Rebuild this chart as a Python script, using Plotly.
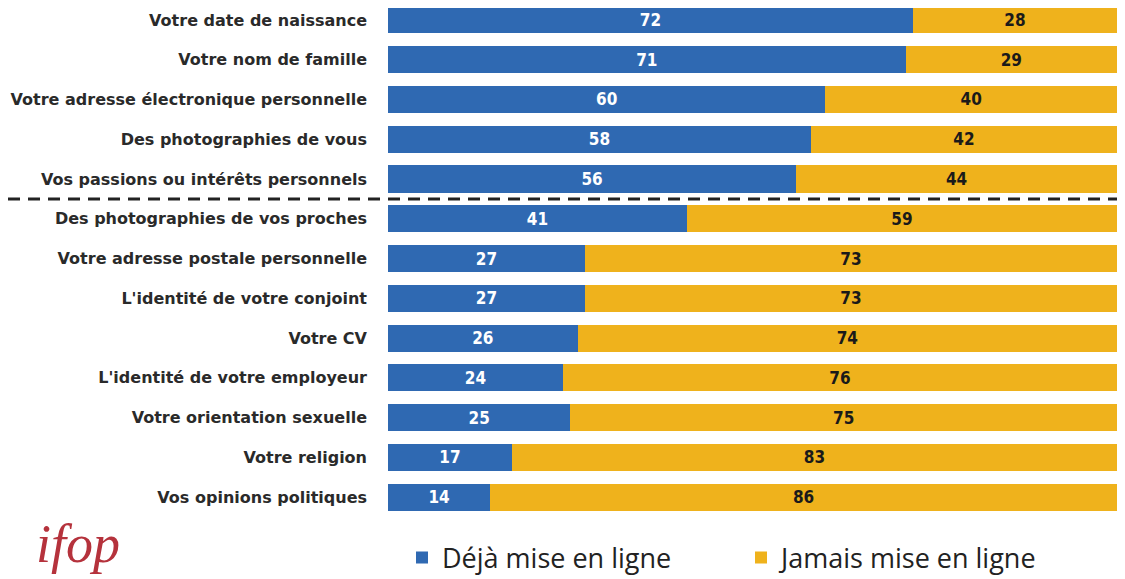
import plotly.graph_objects as go

categories = [
    "Votre date de naissance",
    "Votre nom de famille",
    "Votre adresse électronique personnelle",
    "Des photographies de vous",
    "Vos passions ou intérêts personnels",
    "Des photographies de vos proches",
    "Votre adresse postale personnelle",
    "L'identité de votre conjoint",
    "Votre CV",
    "L'identité de votre employeur",
    "Votre orientation sexuelle",
    "Votre religion",
    "Vos opinions politiques",
]
deja = [72, 71, 60, 58, 56, 41, 27, 27, 26, 24, 25, 17, 14]
jamais = [28, 29, 40, 42, 44, 59, 73, 73, 74, 76, 75, 83, 86]

BLUE = "#2f69b2"
YELLOW = "#efb21c"

W, H = 1109, 571
L, R, T, B = 380, 0, 0, 62
PW, PH = W - L - R, H - T - B

fig = go.Figure()
fig.add_trace(go.Bar(
    y=categories, x=deja, orientation="h", name="Déjà mise en ligne",
    marker=dict(color=BLUE, line=dict(width=0)),
    text=deja, textposition="inside", insidetextanchor="middle",
    texttemplate="<b>%{text}</b>",
    textfont=dict(color="white", size=17, family="DejaVu Sans Condensed"),
))
fig.add_trace(go.Bar(
    y=categories, x=jamais, orientation="h", name="Jamais mise en ligne",
    marker=dict(color=YELLOW, line=dict(width=0)),
    text=jamais, textposition="inside", insidetextanchor="middle",
    texttemplate="<b>%{text}</b>",
    textfont=dict(color="#1a1a1a", size=17, family="DejaVu Sans Condensed"),
))

fig.add_shape(type="line", xref="paper", yref="y",
              x0=-L / PW, x1=1.0, y0=4.5, y1=4.5,
              line=dict(color="#222222", width=3, dash="12px,8px"))

fig.add_annotation(text="<i>ifop</i>", xref="paper", yref="paper",
                   x=(70 - L) / PW, y=(PH - 536) / PH,
                   showarrow=False, xanchor="center", yanchor="middle",
                   font=dict(size=54, color="#b5323c", family="Liberation Serif"))

fig.update_layout(
    width=W, height=H,
    barmode="stack", bargap=0.32,
    plot_bgcolor="white", paper_bgcolor="white",
    margin=dict(l=L, r=R, t=T, b=B, autoexpand=False),
    showlegend=True,
    legend=dict(orientation="h", xref="container", yref="container",
                x=394 / W, y=1 - 550 / H, xanchor="left", yanchor="middle",
                font=dict(size=27, color="#222222", family="Open Sans"),
                entrywidth=294, entrywidthmode="pixels", traceorder="normal",
                itemwidth=30),
    xaxis=dict(range=[0, 100], visible=False, fixedrange=True),
    yaxis=dict(range=[12.5, -0.3], showgrid=False, showline=False,
               ticks="", ticklabelstandoff=20,
               tickfont=dict(size=16, color="#2a2a2a", family="DejaVu Sans", weight="bold")),
)

fig.write_html("out.html")
